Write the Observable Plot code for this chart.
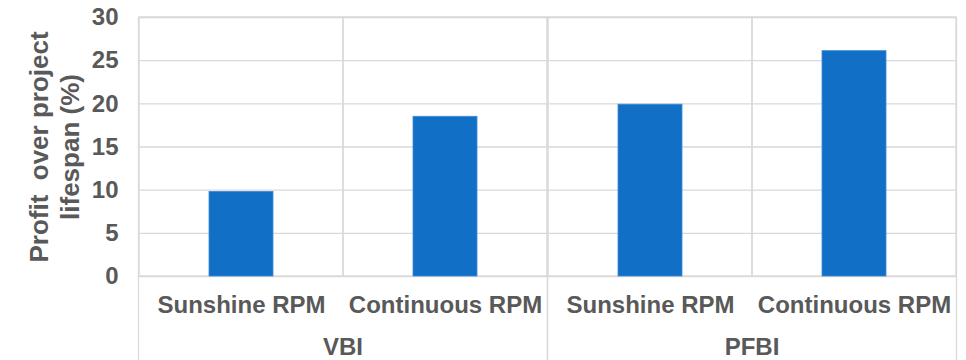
<!DOCTYPE html>
<html>
<head>
<meta charset="utf-8">
<script src="https://cdn.jsdelivr.net/npm/d3@7"></script>
<script src="https://cdn.jsdelivr.net/npm/@observablehq/plot@0.6"></script>
<style>
  html, body { margin: 0; padding: 0; background: #fff; }
</style>
</head>
<body>
<div id="chart"></div>
<script>
// Profit over project lifespan, by basin type and RPM operating mode
const groups = ["VBI", "VBI", "PFBI", "PFBI"];
const systems = ["Sunshine RPM", "Continuous RPM", "Sunshine RPM", "Continuous RPM"];
const profit = [9.8, 18.5, 19.9, 26.1];
const groupOrder = ["VBI", "PFBI"];
const systemOrder = ["Sunshine RPM", "Continuous RPM"];
const yTicks = [0, 5, 10, 15, 20, 25, 30];
const yTitle = "Profit  over project\nlifespan (%)";

const rows = groups.map((g, i) => ({group: g, system: systems[i], value: profit[i]}));
const yMax = d3.max(yTicks);

const gridColor = "#d9d9d9";
const textColor = "#595959";
const barColor = "#1170c6";

const chart = Plot.plot({
  width: 966,
  height: 360,
  marginLeft: 137,
  marginRight: 10,
  marginTop: 17,
  marginBottom: 84,
  style: {
    fontFamily: "'Liberation Sans', Arial, sans-serif",
    fontWeight: "bold",
    fontSize: "24px",
    color: textColor,
    background: "#fff"
  },
  fx: {domain: groupOrder, padding: 0},
  x: {domain: systemOrder, padding: 0},
  y: {domain: [0, yMax], ticks: yTicks},
  marks: [
    // horizontal gridlines
    Plot.gridY(yTicks, {stroke: gridColor, strokeOpacity: 1, strokeWidth: 1.3}),
    // category cell borders inside the plot area
    Plot.barY(rows, {fx: "group", x: "system", y: () => yMax, fill: "none", stroke: gridColor, strokeWidth: 1.3}),
    // group borders, extended down through the category labels
    Plot.frame({stroke: gridColor, strokeWidth: 1.3, insetBottom: -88}),
    // bars
    Plot.barY(rows, {fx: "group", x: "system", y: "value", fill: barColor, stroke: "#3d8ad6", strokeWidth: 0.8, insetLeft: 70, insetRight: 70}),
    Plot.axisY(yTicks, {tickSize: 0, tickPadding: 20, label: null, fill: textColor}),
    Plot.axisX({tickSize: 0, tickPadding: 19, label: null, fill: textColor}),
    Plot.axisFx({anchor: "bottom", tickSize: 0, tickPadding: 61, label: null, fill: textColor}),
    // y-axis title, two lines
    Plot.text([{group: groupOrder[0]}], {
      fx: "group",
      frameAnchor: "left",
      text: () => yTitle,
      textAnchor: "middle",
      lineAnchor: "middle",
      rotate: -90,
      dx: -85,
      fontSize: 26,
      lineHeight: 1.2,
      fill: textColor
    })
  ]
});

document.getElementById("chart").appendChild(chart);
</script>
</body>
</html>
